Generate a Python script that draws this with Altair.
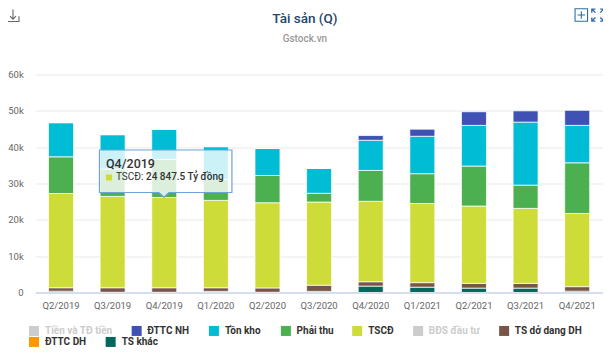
import altair as alt
import pandas as pd

quarters = ["Q2/2019","Q3/2019","Q4/2019","Q1/2020","Q2/2020","Q3/2020","Q4/2020","Q1/2021","Q2/2021","Q3/2021","Q4/2021"]
ts_khac  = [0.35,0.05,0.05,0.30,0.05,0.30,1.75,1.45,1.20,1.20,0.35]
ts_do    = [0.95,1.25,1.25,1.00,1.20,1.70,1.20,1.25,1.30,1.30,1.25]
tscd     = [25.95,25.15,24.85,24.05,23.45,22.90,22.15,21.80,21.30,20.65,20.15]
phai_thu = [10.10,7.55,10.50,5.75,7.50,2.40,8.50,8.20,11.00,6.40,13.95]
ton_kho  = [9.40,9.45,8.25,9.05,7.45,6.85,8.30,10.30,11.20,17.35,10.30]
dttc_nh  = [0,0,0,0,0,0,1.30,1.95,3.75,3.10,4.15]

series_names = ["TS khác","TS dở dang DH","TSCĐ","Phải thu","Tồn kho","ĐTTC NH"]
series_vals = [ts_khac, ts_do, tscd, phai_thu, ton_kho, dttc_nh]
colors = ["#00695c","#795548","#cddc39","#4caf50","#00bcd4","#3f51b5"]

rows = []
for i, (n, v) in enumerate(zip(series_names, series_vals)):
    for q, val in zip(quarters, v):
        rows.append({"q": q, "s": n, "v": val, "o": i})
df = pd.DataFrame(rows)

FONT = "Roboto"
W, H = 568, 218
OX, OY = 35.2, 74.5
px = lambda x: x - OX
py = lambda y: y - OY
one = alt.Data(values=[{"a": 1}])

bars = alt.Chart(df).mark_bar(size=25, stroke="white", strokeWidth=1, strokeOpacity=0.75).encode(
    x=alt.X("q:N", sort=quarters, title=None,
            scale=alt.Scale(paddingInner=0.52, paddingOuter=0.26),
            axis=alt.Axis(labelAngle=0, labelFont=FONT, labelFontSize=9.5, labelColor="#666666",
                          domainColor="#ccd6eb", domainWidth=1.5, ticks=False, labelPadding=8, grid=False)),
    y=alt.Y("v:Q", stack="zero", title=None,
            scale=alt.Scale(domain=[0, 60], nice=False),
            axis=alt.Axis(values=[0,10,20,30,40,50,60], labelExpr="datum.value == 0 ? '0' : datum.value + 'k'",
                          labelFont=FONT, labelFontSize=9.5, labelColor="#666666", gridColor="#f0f0f0", gridWidth=1.5,
                          domain=False, ticks=False, labelPadding=12)),
    color=alt.Color("s:N", scale=alt.Scale(domain=series_names, range=colors), legend=None),
    order=alt.Order("o:Q"),
)

def text(s, x, y, size=10.5, color="#333333", weight="normal", align="left"):
    return alt.Chart(one).mark_text(text=s, font=FONT, fontSize=size, color=color, fontWeight=weight,
                                    align=align, baseline="middle").encode(x=alt.value(px(x)), y=alt.value(py(y)))

def sym(path, x, y, scale, fill="transparent", stroke=None, sw=1, fo=1.0):
    # a custom symbol path is scaled by sqrt(size)/2, so a unit path of span 1 needs size (2*scale)^2
    kw = dict(shape=path, size=4 * scale * scale, filled=False, fill=fill, fillOpacity=fo, opacity=1,
              strokeWidth=sw, stroke=stroke if stroke else "transparent", clip=False)
    return alt.Chart(one).mark_point(**kw).encode(x=alt.value(px(x)), y=alt.value(py(y)))

layers = [bars]

# title
layers += [text("Tài sản (Q)", 305, 18.5, size=13.5, color="#24466b", weight=500, align="center"),
           text("Gstock.vn", 305, 38.5, size=10, color="#999999", weight=500, align="center")]

# toolbar icons
layers += [sym("M-0.5 0.05V0.5H0.5V0.05M0 -0.5V0.3M-0.25 0.05L0 0.3L0.25 0.05", 13, 15.5, 12, stroke="#666666", sw=1.1),
           sym("M-0.5 -0.5H0.5V0.5H-0.5ZM-0.3 0H0.3M0 -0.3V0.3", 581.5, 15, 12.5, stroke="#2e6da4", sw=1.1),
           sym("M-0.5 -0.2V-0.5H-0.2M-0.5 -0.5L-0.2 -0.2M0.2 -0.5H0.5V-0.2M0.5 -0.5L0.2 -0.2M-0.5 0.2V0.5H-0.2M-0.5 0.5L-0.2 0.2M0.2 0.5H0.5V0.2M0.5 0.5L0.2 0.2", 598, 15, 12, stroke="#2e6da4", sw=1.3)]

# legend
legend_items = [
    ("Tiền và TĐ tiền", "#cccccc", 34, 45, 331, "#cccccc"),
    ("ĐTTC NH", "#3f51b5", 136.7, 147.3, 331, "#333333"),
    ("Tồn kho", "#00bcd4", 214, 225, 331, "#333333"),
    ("Phải thu", "#4caf50", 286, 296.7, 331, "#333333"),
    ("TSCĐ", "#cddc39", 357.3, 368.3, 331, "#333333"),
    ("BĐS đầu tư", "#cccccc", 418.3, 429, 331, "#cccccc"),
    ("TS dở dang DH", "#795548", 504.3, 515, 331, "#333333"),
    ("ĐTTC DH", "#ff9800", 34, 45, 342, "#333333"),
    ("TS khác", "#00695c", 110.7, 121.7, 342, "#333333"),
]
for label, c, sx, tx, y, tc in legend_items:
    layers.append(sym("M-0.5 -0.5H0.5V0.5H-0.5Z", sx, y, 10, fill=c))
    layers.append(text(label, tx, y, size=10, color=tc, weight="bold"))

# tooltip box with pointer
l, r, t, b, tipx, tipy = 99.5, 232, 150, 192.5, 164, 197.3
cx, cy = (l + r) / 2, (t + tipy) / 2
s = r - l
n = lambda v, c: f"{(v - c) / s:.4f}"
path = (f"M{n(l,cx)} {n(t,cy)}H{n(r,cx)}V{n(b,cy)}H{n(tipx+5,cx)}L{n(tipx,cx)} {n(tipy,cy)}"
        f"L{n(tipx-5,cx)} {n(b,cy)}H{n(l,cx)}Z")
layers.append(sym(path, cx, cy, s, fill="white", stroke="#6fa3d6", sw=1.2, fo=0.8))
layers += [text("Q4/2019", 106, 163.5, size=12.5, color="#333333", weight=500),
           sym("M-0.5 -0.5H0.5V0.5H-0.5Z", 109, 177.5, 6, fill="#cddc39"),
           text("TSCĐ:", 116, 177.5, size=10, color="#333333"),
           text("24 847.5 Tỷ đồng", 146, 177.5, size=10, color="#333333", weight=500)]

chart = alt.layer(*layers).properties(
    width=W, height=H,
    autosize=alt.AutoSizeParams(type="none"),
    padding={"left": 27.2, "top": 66.5, "right": 0, "bottom": 56},
    background="white",
).configure_view(stroke=None)

chart.save("out.html", embed_options={"renderer": "svg", "actions": False})
